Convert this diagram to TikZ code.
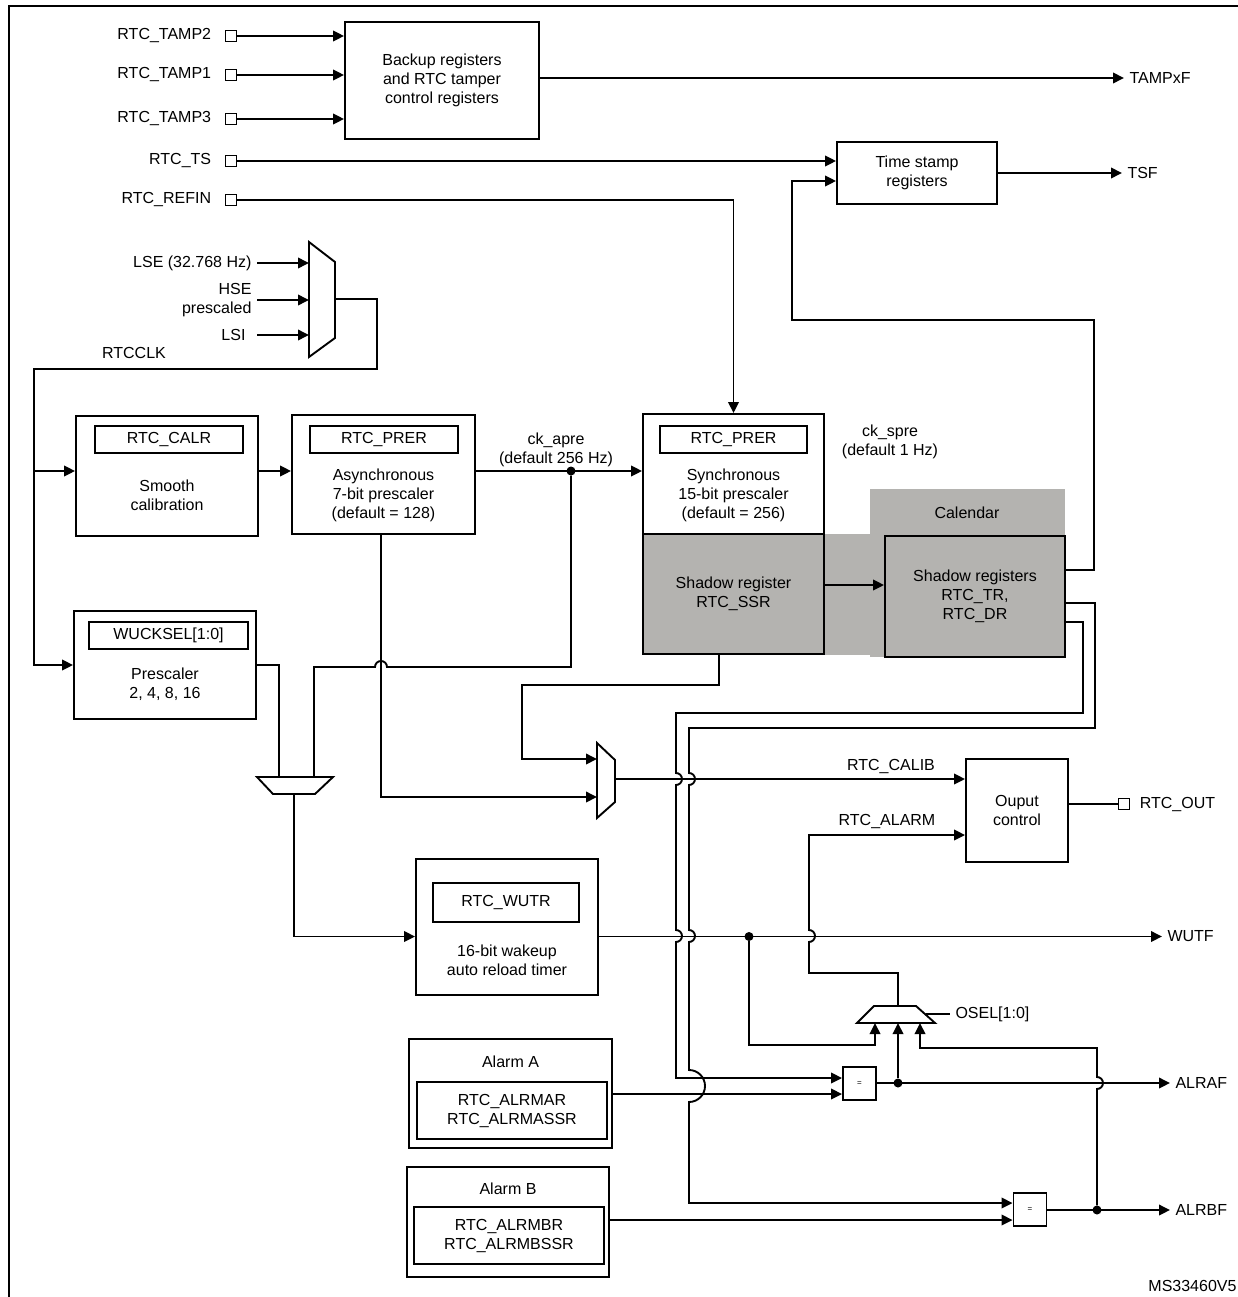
\documentclass[tikz,border=0pt]{standalone}
\usepackage{fontspec}
\setmainfont{Liberation Sans}
\RequirePackage{xcolor}
\definecolor{calgray}{RGB}{180,179,176}
\tikzset{every picture/.style={/utils/exec={\fontsize{16}{19}\selectfont}}}
\usetikzlibrary{calc}
\usetikzlibrary{positioning}
\usetikzlibrary{arrows.meta}
\tikzset{node distance=6pt, % Gap between a pad and its label
  every node/.style={           align=center,
},
         blk/.style={ % Sets the properties for each block
           draw, line width=1.9pt, inner sep=0pt},
         reg/.style={ % Register box inside a block
           draw, line width=1.9pt, inner sep=0pt},
         shd/.style={blk, fill=calgray},
         pad/.style={draw, line width=1.7pt, fill=white,
           minimum size=11pt, inner sep=0pt},
         cmp/.style={blk, minimum size=33pt,
           font=\fontsize{8}{8}\selectfont},
         jdot/.style={circle, fill, inner sep=0pt, minimum size=9pt},
         mux/.style={line width=1.9pt, fill=white, line join=miter},
         wire/.style={line width=1.9pt},
         sig/.style={ % Sets the properties for each signal
           wire,
           -{Triangle[length=11pt,width=10.5pt]}}}

\begin{document}
\begin{tikzpicture}[x=1pt,y=-1pt]
  \useasboundingbox (0,0) rectangle (1238,1297);
  \draw[line width=1.9pt] (9,1297) -- (9,6) -- (1238,6);

  % pads
  \node [pad] (tamp2) at (231,36) {};
  \node [pad] (tamp1) at (231,75) {};
  \node [pad] (tamp3) at (231,119) {};
  \node [pad] (ts) at (231,161) {};
  \node [pad] (refin) at (231,200) {};
  \node [left=8pt of tamp2] (ltamp2) {RTC\_TAMP2};
  \node [left=8pt of tamp1] (ltamp1) {RTC\_TAMP1};
  \node [left=8pt of tamp3] (ltamp3) {RTC\_TAMP3};
  \node [left=8pt of ts] (lts) {RTC\_TS};
  \node [left=8pt of refin] (lrefin) {RTC\_REFIN};

  \node [blk, minimum width=194pt, minimum height=117pt] (backup) at (442,80.5) {Backup registers\\and RTC tamper\\control registers};
  \node [blk, minimum width=160pt, minimum height=62pt] (tstamp) at (917,173) {Time stamp\\registers};
  \node [anchor=west] (ltampf) at (1124,78) {TAMPxF};
  \node [anchor=west] (ltsf) at (1122,173) {TSF};

  \draw[sig] (tamp2) -- (tamp2 -| backup.west);
  \draw[sig] (tamp1) -- (tamp1 -| backup.west);
  \draw[sig] (tamp3) -- (tamp3 -| backup.west);
  \draw[sig] (backup.east |- ltampf) -- (ltampf.west);
  \draw[sig] (ts) -- (ts -| tstamp.west);
  \draw[sig] (tstamp.east) -- (ltsf.west);

  % clock source mux
  \draw[mux] (309,242) -- (335,262) -- (335,338) -- (309,357) -- cycle;
  \coordinate (clkmuxa) at (309,263);
  \coordinate (clkmuxb) at (309,300);
  \coordinate (clkmuxc) at (309,335);
  \coordinate (clkmuxo) at (335,299);
  \node [anchor=east] (llse) at (257,263) {LSE (32.768 Hz)};
  \node [anchor=east, align=right] (lhse) at (257,300) {HSE\\prescaled};
  \node [anchor=east] (llsi) at (251,335) {LSI};
  \draw[sig] (llse.east) -- (clkmuxa);
  \draw[sig] (lhse.east) -- (clkmuxb);
  \draw[sig] ([xshift=6pt]llsi.east) -- (clkmuxc);
  \node (lrtcclk) at (134,353) {RTCCLK};

  % prescalers
  \node [blk, minimum width=182pt, minimum height=120pt] (smooth) at (167,476) {};
  \node [reg, minimum width=148pt, minimum height=27pt] (calr) at (169,439.5) {RTC\_CALR};
  \node (smoothtxt) at (167,495) {Smooth\\calibration};
  \node [blk, minimum width=183pt, minimum height=119pt] (async) at (383.5,474.5) {};
  \node [reg, minimum width=148pt, minimum height=27pt] (aprer) at (384,439.5) {RTC\_PRER};
  \node (asynctxt) at (383.5,495) {Asynchronous\\7-bit prescaler\\(default = 128)};
  \node [blk, minimum width=181pt, minimum height=120pt] (sync) at (733.5,474) {};
  \node [reg, minimum width=147pt, minimum height=27pt] (sprer) at (733.5,439.5) {RTC\_PRER};
  \node (synctxt) at (733.5,495) {Synchronous\\15-bit prescaler\\(default = 256)};
  \node [blk, minimum width=182pt, minimum height=108pt] (wuck) at (165,665) {};
  \node [reg, minimum width=159pt, minimum height=27pt] (wsel) at (168.5,635.5) {WUCKSEL[1:0]};
  \node (wucktxt) at (165,684) {Prescaler\\2, 4, 8, 16};

  \coordinate (clkj) at (35,471);
  \draw[sig] (clkmuxo) -| (377,369) -| ([xshift=-39pt]wuck.west) -- (wuck.west);
  \draw[sig] (clkj) -- (clkj -| smooth.west);
  \draw[sig] (smooth.east |- clkj) -- (async.west |- clkj);
  \draw[sig] (async.east |- clkj) -- (sync.west |- clkj);
  \draw[sig] (refin) -| (sync.north);
  \node [jdot] (apre) at (571,471) {};
  \node (lapre) at (556,450) {ck\_apre\\(default 256 Hz)};

  % calendar
  \fill[calgray] (824,534) rectangle (885,655);
  \fill[calgray] (870,489) rectangle (1065,657);
  \node (lcal) at (967,513) {Calendar};
  \node [shd, minimum width=181pt, minimum height=120pt] (ssr) at (733.5,594) {Shadow register\\RTC\_SSR};
  \node [shd, minimum width=180pt, minimum height=121pt] (tr) at (975,596.5) {Shadow registers\\RTC\_TR,\\RTC\_DR};
  \node (lspre) at (890,442) {ck\_spre\\(default 1 Hz)};
  \draw[sig] (ssr.east |- 0,585) -- (tr.west |- 0,585);
  \draw[sig] (tr.east |- 0,570) -- (1094,570) |- (792,320) |- ([yshift=-8pt]tstamp.west);

  % wakeup clock mux and calib mux
  \draw[mux] (257,777) -- (333,777) -- (315,794) -- (273,794) -- cycle;
  \coordinate (wkmuxa) at (279,777);
  \coordinate (wkmuxb) at (314,777);
  \coordinate (wkmuxo) at (294,794);
  \draw[mux] (597,743) -- (615,760) -- (615,802) -- (597,818) -- cycle;
  \coordinate (calmuxa) at (597,759);
  \coordinate (calmuxb) at (597,797);
  \coordinate (calmuxo) at (615,779);

  \draw[wire] (wuck.east) -| (wkmuxa);
  \draw[wire] (apre) |- (387,667) arc[start angle=0,end angle=180,radius=6pt] -| (wkmuxb);
  \draw[sig] ([xshift=-2.5pt]async.south) |- (calmuxb);
  \draw[sig] ([xshift=-14.5pt]ssr.south) -- ++(0,30) -| (522,759) -- (calmuxa);

  \node [blk, minimum width=182pt, minimum height=136pt] (wut) at (507,927) {};
  \node [reg, minimum width=146pt, minimum height=39pt] (wutr) at (506,902.5) {RTC\_WUTR};
  \node (wuttxt) at (507,960) {16-bit wakeup\\auto reload timer};
  \draw[sig] (wkmuxo) |- ([yshift=-9.5pt]wut.west);

  % output control
  \node [blk, minimum width=102pt, minimum height=103pt] (outctl) at (1017,810.5) {Ouput\\control};
  \node [pad] (pout) at (1124,804) {};
  \node [right=4pt of pout] (lout) {RTC\_OUT};
  \node (lcalib) at (891,766) {RTC\_CALIB};
  \node (lalarm) at (887,821) {RTC\_ALARM};
  \draw[wire] (outctl.east |- pout) -- (pout);
  \draw[sig] (calmuxo) -- (calmuxo -| outctl.west);

  \node [anchor=west] (lwutf) at (1162,936.5) {WUTF};
  \draw[sig] ([yshift=-9.5pt]wut.east) -- (lwutf.west);
  \node [jdot] (wdot) at (749,936.5) {};

  % alarms
  \node [blk, minimum width=203pt, minimum height=109pt] (alarma) at (510.5,1093.5) {};
  \node (lalarma) at (510.5,1062) {Alarm A};
  \node [reg, minimum width=190pt, minimum height=57pt] (alrma) at (512,1110.5) {RTC\_ALRMAR\\RTC\_ALRMASSR};
  \node [blk, minimum width=202pt, minimum height=110pt] (alarmb) at (508,1222) {};
  \node (lalarmb) at (508,1189) {Alarm B};
  \node [reg, minimum width=190pt, minimum height=57pt] (alrmb) at (509,1235.5) {RTC\_ALRMBR\\RTC\_ALRMBSSR};
  \node [cmp] (cmpa) at (859.5,1083.5) {=};
  \node [cmp] (cmpb) at (1030,1209.5) {=};
  \node [anchor=west] (lalraf) at (1170,1083) {ALRAF};
  \node [anchor=west] (lalrbf) at (1170,1210) {ALRBF};
  \node [jdot] (adot) at (898,1083) {};
  \node [jdot] (bdot) at (1097,1210) {};

  \draw[mux] (874,1006) -- (916,1006) -- (935,1023) -- (857,1023) -- cycle;
  \coordinate (oselmuxa) at (875,1023);
  \coordinate (oselmuxb) at (898,1023);
  \coordinate (oselmuxc) at (920,1023);
  \coordinate (oselmuxo) at (898,1006);
  \coordinate (oselmuxs) at (926,1014);
  \node [anchor=west] (losel) at (950,1014) {OSEL[1:0]};
  \draw[wire] (oselmuxs) -- (losel.west);

  \draw[sig] (alarma.east |- 0,1094) -- (cmpa.west |- 0,1094);
  \draw[sig] (alarmb.east |- 0,1220) -- (cmpb.west |- 0,1220);
  \draw[sig] (cmpa.east |- lalraf) -- (lalraf.west);
  \draw[sig] (cmpb.east |- lalrbf) -- (lalrbf.west);
  \draw[sig] (adot) -- (oselmuxb);
  \draw[sig] (wdot) |- (875,1045) -- (oselmuxa);
  \draw[sig] (bdot) -- (1097,1089) arc[start angle=-90,end angle=90,radius=6pt] -- (1097,1048) -| (oselmuxc);
  \draw[sig] (oselmuxo) -- (898,973) -| (809,942) arc[start angle=-90,end angle=90,radius=6pt] -- (809,835) -- (outctl.west |- 0,835);

  % calendar to comparators
  \draw[sig] (tr.east |- 0,622) -- (1083,622) -- (1083,713) -- (676,713) -- (676,773)
    arc[start angle=90,end angle=-90,radius=6pt] -- (676,930)
    arc[start angle=90,end angle=-90,radius=6pt] -- (676,1078) -- (cmpa.west |- 0,1078);
  \draw[sig] (tr.east |- 0,603) -- (1095,603) -- (1095,728) -- (689,728) -- (689,773)
    arc[start angle=90,end angle=-90,radius=6pt] -- (689,930)
    arc[start angle=90,end angle=-90,radius=6pt] -- (689,1070)
    arc[start angle=90,end angle=-90,radius=16pt] -- (689,1203) -- (cmpb.west |- 0,1203);

  \node [anchor=east] (msid) at (1242,1286) {MS33460V5};
\end{tikzpicture}
\end{document}
